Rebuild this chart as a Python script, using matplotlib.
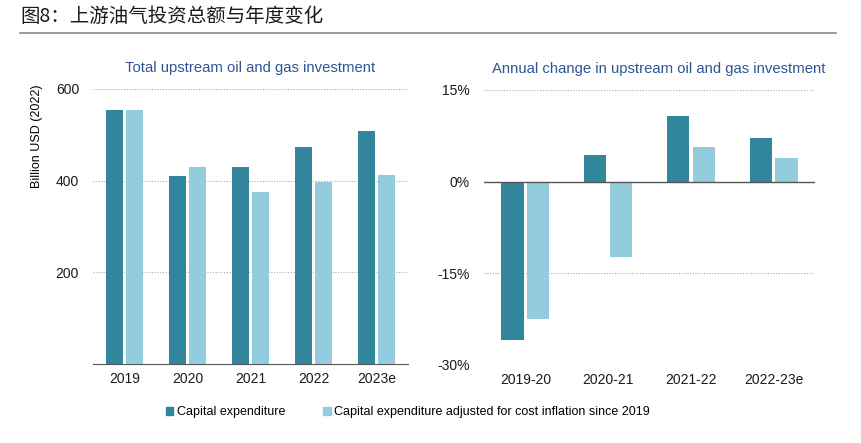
import numpy as np
import matplotlib
matplotlib.use('Agg')
import matplotlib.pyplot as plt
from matplotlib.patches import Patch
from matplotlib.lines import Line2D

plt.rcParams['font.family'] = ['Liberation Sans', 'DejaVu Sans']

# ── data ─────────────────────────────────────────────────────────────────────
years = ['2019', '2020', '2021', '2022', '2023e']
capex = [555, 410, 429, 474, 508]
capex_adj = [555, 429, 376, 396, 412]

periods = ['2019-20', '2020-21', '2021-22', '2022-23e']
chg = [-25.9, 4.4, 10.7, 7.1]
chg_adj = [-22.5, -12.4, 5.7, 3.8]

DARK = '#31869B'
LIGHT = '#93CDDD'
BLUE_TITLE = '#2F5597'
# ─────────────────────────────────────────────────────────────────────────────

fig = plt.figure(figsize=(8.61, 4.43), dpi=100)
W, H = 861, 443

# header
fig.text(20/W, 1 - 17/H, '图8：上游油气投资总额与年度变化', fontsize=14,
         family=['Noto Sans CJK SC', 'DejaVu Sans'], va='center', ha='left', color='#1a1a1a')
fig.add_artist(Line2D([20/W, 836/W], [1 - 33/H, 1 - 33/H],
                      color='#888888', lw=1.2, transform=fig.transFigure))

ax1 = fig.add_axes([93/W, 1 - 364/H, (408-93)/W, (364-89)/H])
ax2 = fig.add_axes([484/W, 1 - 365/H, (815-484)/W, (365-90)/H])

bw = 0.27
off = 0.155

# left panel
x = np.arange(len(years))
ax1.bar(x - off, capex, bw, color=DARK, zorder=3)
ax1.bar(x + off, capex_adj, bw, color=LIGHT, zorder=3)
ax1.set_xlim(-0.5, len(years) - 0.5)
ax1.set_ylim(0, 600)
ax1.set_yticks([200, 400, 600])
ax1.set_xticks(x)
ax1.set_xticklabels(years)
ax1.yaxis.grid(True, linestyle=(0, (1, 1.5)), color='#aaaaaa', lw=0.8, zorder=0)
ax1.set_ylabel('Billion USD (2022)', fontsize=9)
ax1.yaxis.set_label_coords(-0.16, 0.83)
ax1.set_title('Total upstream oil and gas investment', fontsize=10.7, color=BLUE_TITLE, pad=12)
for s in ['top', 'right', 'left']:
    ax1.spines[s].set_visible(False)
ax1.spines['bottom'].set_color('#555555')

# right panel
x2 = np.arange(len(periods))
ax2.bar(x2 - off, chg, bw, color=DARK, zorder=3)
ax2.bar(x2 + off, chg_adj, bw, color=LIGHT, zorder=3)
ax2.set_xlim(-0.5, len(periods) - 0.5)
ax2.set_ylim(-30, 15)
ax2.set_yticks([-30, -15, 0, 15])
ax2.set_yticklabels(['-30%', '-15%', '0%', '15%'])
ax2.set_xticks(x2)
ax2.set_xticklabels(periods)
for v in [-30, -15, 15]:
    ax2.axhline(v, linestyle=(0, (1, 1.5)), color='#aaaaaa', lw=0.8, zorder=0)
ax2.axhline(0, color='#555555', lw=1.0, zorder=4)
ax2.set_title('Annual change in upstream oil and gas investment', fontsize=10.7, color=BLUE_TITLE,
              pad=12, x=0.528)
for s in ['top', 'right', 'left', 'bottom']:
    ax2.spines[s].set_visible(False)

for ax in (ax1, ax2):
    ax.tick_params(axis='both', length=0, labelsize=10, colors='#1a1a1a')
    ax.tick_params(axis='x', pad=6)
ax1.tick_params(axis='y', pad=10)
ax2.tick_params(axis='y', pad=10)

# legend
handles = [Patch(color=DARK), Patch(color=LIGHT)]
fig.legend(handles, ['Capital expenditure', 'Capital expenditure adjusted for cost inflation since 2019'],
           loc='center', bbox_to_anchor=(408/W, 1 - 412/H), ncol=2, frameon=False,
           fontsize=9, handlelength=0.6, handleheight=0.6, handletextpad=0.3, columnspacing=3.0)

fig.savefig('out.png', dpi=100)
